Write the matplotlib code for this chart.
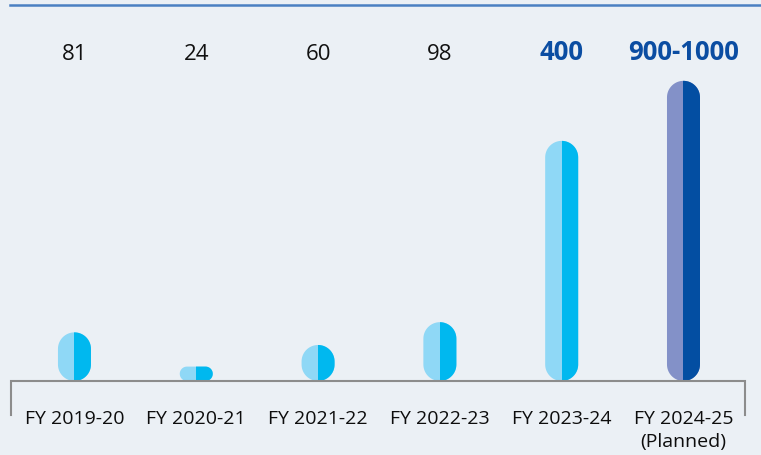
import matplotlib
matplotlib.use("Agg")
import matplotlib.pyplot as plt
from matplotlib.path import Path
from matplotlib.patches import PathPatch, Rectangle
from matplotlib.lines import Line2D
import numpy as np

years = ["FY 2019-20", "FY 2020-21", "FY 2021-22", "FY 2022-23",
         "FY 2023-24", "FY 2024-25\n(Planned)"]
values = [81, 24, 60, 98, 400, 500]   # planned bar is drawn shorter than its label
value_labels = ["81", "24", "60", "98", "400", "900-1000"]

BG = "#EBF0F5"
light = ["#8FD8F6"] * 5 + ["#8391C8"]
dark = ["#00B8EF"] * 5 + ["#034EA2"]
label_colors = ["#111111"] * 4 + ["#0B4DA2", "#0B4DA2"]
label_weights = ["normal"] * 4 + ["bold", "bold"]
label_sizes = [16] * 4 + [18.5, 18.5]

plt.rcParams["font.family"] = ["Open Sans", "DejaVu Sans"]

W, H = 761, 456
fig = plt.figure(figsize=(W / 100, H / 100), dpi=100, facecolor=BG)
ax = fig.add_axes([11 / W, (H - 382) / H, (745 - 11) / W, (382 - 20) / H])
ax.set_facecolor(BG)
x = np.arange(len(years))
ax.set_xlim(-0.521, 5.505)
ax.set_ylim(0, 603)
for s in ax.spines.values():
    s.set_visible(False)
ax.set_yticks([])
ax.set_xticks(x)
ax.set_xticklabels(years, fontsize=14, color="#0D0D0D", linespacing=1.4)
ax.tick_params(axis="x", length=0, pad=20)

bar_w = 0.271


def capsule(x0, x1, y0, y1):
    # build a capsule outline in pixels, then map back to data units
    (px0, py0), (px1, py1) = ax.transData.transform([(x0, y0), (x1, y1)])
    r = min(px1 - px0, py1 - py0) / 2
    t = np.linspace(0, np.pi / 2, 20)
    pts = []
    pts += list(zip(px1 - r + r * np.cos(t), py1 - r + r * np.sin(t)))
    pts += list(zip(px0 + r - r * np.sin(t), py1 - r + r * np.cos(t)))
    pts += list(zip(px0 + r - r * np.cos(t), py0 + r - r * np.sin(t)))
    pts += list(zip(px1 - r + r * np.sin(t), py0 + r - r * np.cos(t)))
    pts = ax.transData.inverted().transform(pts)
    return Path(np.vstack([pts, pts[:1]]), closed=True)


for i, v in enumerate(values):
    xc = x[i]
    path = capsule(xc - bar_w / 2, xc + bar_w / 2, 0, v)
    ax.add_patch(PathPatch(path, facecolor=light[i], edgecolor="none"))
    right = PathPatch(path, facecolor=dark[i], edgecolor="none")
    ax.add_patch(right)
    clip = Rectangle((xc, 0), bar_w, v + 50, transform=ax.transData)
    right.set_clip_path(clip)

    ax.text(xc, 0.8895, value_labels[i], transform=ax.get_xaxis_transform(),
            ha="center", va="baseline", fontsize=label_sizes[i],
            color=label_colors[i], fontweight=label_weights[i])

# axis line with end ticks
ax.plot([0, 0, 1, 1], [-0.094, 0, 0, -0.094], transform=ax.transAxes,
        color="#8C8C8C", lw=1.5, clip_on=False, solid_joinstyle="miter")

# thin blue rule at the top
fig.add_artist(Line2D([10 / W, 1], [1 - 5.5 / H, 1 - 5.5 / H],
                      color="#4A80C2", lw=1.8))

fig.savefig("out.png", dpi=100, facecolor=BG)
